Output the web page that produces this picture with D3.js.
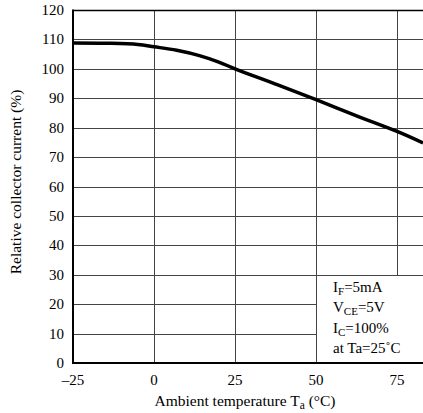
<!DOCTYPE html>
<html><head><meta charset="utf-8">
<script src="https://cdn.jsdelivr.net/npm/d3@7"></script>
<style>body{margin:0;background:#fff}svg{display:block}</style>
</head><body>
<script>
const temps = [-25, -15, -5, 0, 7, 14, 20, 25, 37.5, 50, 62.5, 75, 83];
const current = [108.8, 108.7, 108.3, 107.5, 106.3, 104.5, 102.3, 100, 94.8, 89.5, 84, 78.7, 74.8];
const xTicks = [-25, 0, 25, 50, 75];
const yTicks = [0, 10, 20, 30, 40, 50, 60, 70, 80, 90, 100, 110, 120];
const legendLines = [["I","F","=5mA"],["V","CE","=5V"],["I","C","=100%"],["at Ta=25˚C","",""]];

const FONT = "'Liberation Serif', 'Times New Roman', Times, 'DejaVu Serif', serif";
const W = 423, H = 413;
const svg = d3.select("body").append("svg").attr("width", W).attr("height", H)
  .attr("font-family", FONT);
const x = d3.scaleLinear().domain([-25, 83]).range([73, 423]);
const y = d3.scaleLinear().domain([0, 120]).range([363, 10]);

const grid = svg.append("g").attr("stroke", "#444").attr("stroke-width", 1);
yTicks.forEach(t => {
  if (t === 0 || t === 120) return;
  grid.append("line").attr("x1", 73).attr("x2", 423).attr("y1", Math.round(y(t)) + 0.5).attr("y2", Math.round(y(t)) + 0.5);
});
xTicks.forEach(t => {
  if (t === -25) return;
  grid.append("line").attr("y1", 10).attr("y2", 363).attr("x1", Math.round(x(t)) + 0.5).attr("x2", Math.round(x(t)) + 0.5);
});
svg.append("line").attr("x1", 73).attr("x2", 423).attr("y1", 10.5).attr("y2", 10.5).attr("stroke", "#000").attr("stroke-width", 1.5);

svg.append("path").datum(temps.map((t, i) => [t, current[i]]))
  .attr("d", d3.line().x(d => x(d[0])).y(d => y(d[1])).curve(d3.curveCatmullRom.alpha(0.5)))
  .attr("fill", "none").attr("stroke", "#000").attr("stroke-width", 3.5);

const lx = Math.round(x(50)) + 0.5, ly = Math.round(y(30)) + 0.5;
svg.append("rect").attr("x", lx).attr("y", ly + 0.5).attr("width", W - lx).attr("height", 363 - ly)
  .attr("fill", "#fff").attr("stroke", "none");
svg.append("line").attr("x1", lx).attr("x2", lx).attr("y1", ly).attr("y2", 363).attr("stroke", "#444");
legendLines.forEach((l, i) => {
  const t = svg.append("text").attr("x", 333).attr("y", 292 + i * 20.3).attr("font-size", 15).attr("fill", "#000");
  t.append("tspan").text(l[0]);
  if (l[1]) t.append("tspan").attr("dy", 3).attr("font-size", 11).text(l[1]);
  if (l[2]) t.append("tspan").attr("dy", -3).text(l[2]);
});

svg.append("line").attr("x1", 73).attr("x2", 73).attr("y1", 9.5).attr("y2", 364).attr("stroke", "#000").attr("stroke-width", 2);
svg.append("line").attr("x1", 72).attr("x2", 423).attr("y1", 363).attr("y2", 363).attr("stroke", "#000").attr("stroke-width", 2);

yTicks.forEach(t => {
  svg.append("text").attr("x", 64).attr("y", y(t) + 5).attr("text-anchor", "end").attr("font-size", 15).text(t);
});
xTicks.forEach(t => {
  svg.append("text").attr("x", x(t)).attr("y", 385).attr("text-anchor", "middle").attr("font-size", 15)
    .text(t < 0 ? "\u2013" + Math.abs(t) : t);
});

const xt = svg.append("text").attr("x", 245).attr("y", 406).attr("text-anchor", "middle").attr("font-size", 15.5);
xt.append("tspan").text("Ambient temperature T");
xt.append("tspan").attr("dy", 3).attr("font-size", 11.5).text("a");
xt.append("tspan").attr("dy", -3).text(" (°C)");
svg.append("text").attr("transform", "translate(21,182) rotate(-90)").attr("text-anchor", "middle").attr("font-size", 15.5)
  .text("Relative collector current (%)");
</script>
</body></html>
